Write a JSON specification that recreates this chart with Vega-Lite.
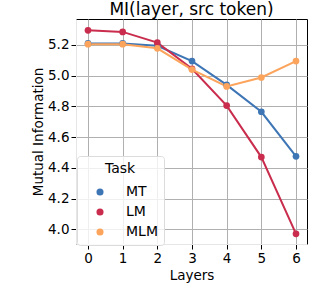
{
  "$schema": "https://vega.github.io/schema/vega-lite/v6.json",
  "autosize": "none",
  "width": 231,
  "height": 225,
  "padding": {"left": 76, "top": 19, "right": 3, "bottom": 60},
  "background": "white",
  "config": {
    "font": "DejaVu Sans",
    "view": {"stroke": "black", "strokeWidth": 1}
  },
  "title": {
    "text": "MI(layer, src token)",
    "fontSize": 17,
    "font": "DejaVu Sans",
    "fontWeight": "normal",
    "color": "black",
    "offset": 0
  },
  "data": {
    "values": [
      {"layer": 0, "task": "MT", "mi": 5.21},
      {"layer": 1, "task": "MT", "mi": 5.21},
      {"layer": 2, "task": "MT", "mi": 5.195},
      {"layer": 3, "task": "MT", "mi": 5.095},
      {"layer": 4, "task": "MT", "mi": 4.94},
      {"layer": 5, "task": "MT", "mi": 4.765},
      {"layer": 6, "task": "MT", "mi": 4.475},
      {"layer": 0, "task": "LM", "mi": 5.295},
      {"layer": 1, "task": "LM", "mi": 5.285},
      {"layer": 2, "task": "LM", "mi": 5.215},
      {"layer": 3, "task": "LM", "mi": 5.045},
      {"layer": 4, "task": "LM", "mi": 4.805},
      {"layer": 5, "task": "LM", "mi": 4.47},
      {"layer": 6, "task": "LM", "mi": 3.97},
      {"layer": 0, "task": "MLM", "mi": 5.205},
      {"layer": 1, "task": "MLM", "mi": 5.205},
      {"layer": 2, "task": "MLM", "mi": 5.178},
      {"layer": 3, "task": "MLM", "mi": 5.04},
      {"layer": 4, "task": "MLM", "mi": 4.93},
      {"layer": 5, "task": "MLM", "mi": 4.988},
      {"layer": 6, "task": "MLM", "mi": 5.095}
    ]
  },
  "encoding": {
    "x": {
      "field": "layer",
      "type": "quantitative",
      "scale": {"domain": [-0.346, 6.317], "nice": false, "zero": false},
      "axis": {
        "title": "Layers",
        "values": [0, 1, 2, 3, 4, 5, 6],
        "format": "d",
        "grid": true,
        "gridColor": "#b0b0b0",
        "gridWidth": 1,
        "domainColor": "#e6e6e6",
        "tickColor": "black",
        "tickSize": 5,
        "labelFontSize": 13.5,
        "labelColor": "black",
        "labelPadding": 2,
        "labelFlush": false,
        "titleFontSize": 13.5,
        "titleFontWeight": "normal",
        "titleColor": "black",
        "titlePadding": 4
      }
    },
    "y": {
      "field": "mi",
      "type": "quantitative",
      "scale": {"domain": [3.904, 5.369], "nice": false, "zero": false},
      "axis": {
        "title": "Mutual Information",
        "values": [4.0, 4.2, 4.4, 4.6, 4.8, 5.0, 5.2],
        "format": ".1f",
        "grid": true,
        "gridColor": "#b0b0b0",
        "gridWidth": 1,
        "domainColor": "#e6e6e6",
        "tickColor": "black",
        "tickSize": 5,
        "labelFontSize": 13.5,
        "labelColor": "black",
        "labelPadding": 2,
        "labelFlush": false,
        "titleFontSize": 13.5,
        "titleFontWeight": "normal",
        "titleColor": "black",
        "titlePadding": 2
      }
    },
    "color": {
      "field": "task",
      "type": "nominal",
      "scale": {"domain": ["MT", "LM", "MLM"], "range": ["#3d75b5", "#c92c4c", "#fca45c"]},
      "legend": {
        "title": "Task",
        "orient": "none",
        "legendX": 1,
        "legendY": 137,
        "symbolType": "circle",
        "symbolSize": 50,
        "symbolOffset": 10,
        "symbolStrokeWidth": 0,
        "labelOffset": 19,
        "labelFontSize": 14,
        "labelColor": "black",
        "titleFontSize": 14,
        "titleFontWeight": "normal",
        "titleColor": "black",
        "titleAnchor": "middle",
        "titleAlign": "center",
        "titlePadding": 9,
        "rowPadding": 6,
        "padding": 6,
        "fillColor": "rgba(255,255,255,0.8)",
        "strokeColor": "#dcdcdc",
        "cornerRadius": 3
      }
    }
  },
  "layer": [
    {
      "mark": {"type": "line", "strokeWidth": 2},
      "encoding": {"detail": {"field": "task"}}
    },
    {
      "mark": {"type": "circle", "size": 45, "opacity": 1}
    }
  ]
}
